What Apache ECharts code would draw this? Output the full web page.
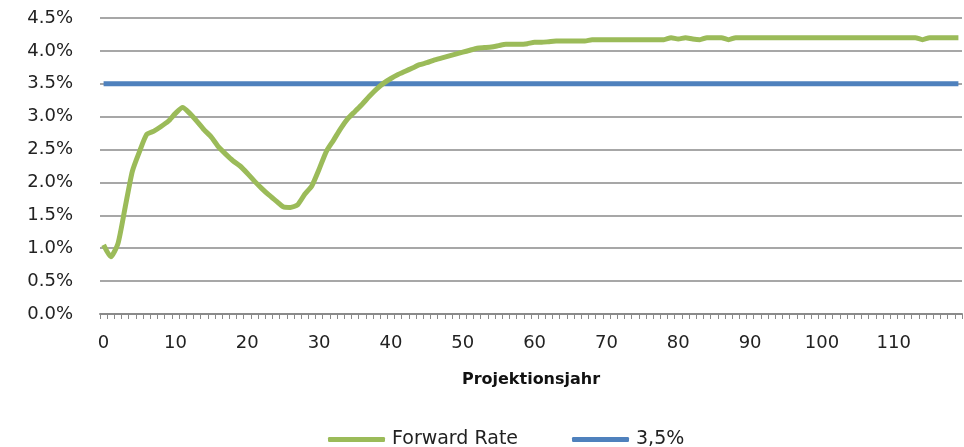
<!DOCTYPE html>
<html>
<head>
<meta charset="utf-8">
<script src="https://cdn.jsdelivr.net/npm/echarts@6/dist/echarts.min.js"></script>
<style>
html,body{margin:0;padding:0;background:#fff;}
#c{width:964px;height:447px;}
</style>
</head>
<body>
<div id="c"></div>
<script>
var years = [0,1,2,3,4,5,6,7,8,9,10,11,12,13,14,15,16,17,18,19,
20,21,22,23,24,25,26,27,28,29,30,31,32,33,34,35,36,37,38,39,
40,41,42,43,44,45,46,47,48,49,50,51,52,53,54,55,56,57,58,59,
60,61,62,63,64,65,66,67,68,69,70,71,72,73,74,75,76,77,78,79,
80,81,82,83,84,85,86,87,88,89,90,91,92,93,94,95,96,97,98,99,
100,101,102,103,104,105,106,107,108,109,110,111,112,113,114,115,116,117,118,119];

var forwardRate = [1.05,0.87,1.07,1.62,2.17,2.47,2.73,2.78,2.85,2.93,
3.05,3.14,3.05,2.93,2.80,2.69,2.54,2.43,2.33,2.25,
2.14,2.02,1.91,1.81,1.72,1.63,1.62,1.66,1.82,1.95,
2.20,2.47,2.64,2.82,2.97,3.08,3.19,3.31,3.42,3.51,
3.58,3.64,3.69,3.74,3.79,3.82,3.86,3.89,3.92,3.95,
3.98,4.01,4.04,4.05,4.06,4.08,4.10,4.10,4.10,4.11,
4.13,4.13,4.14,4.15,4.15,4.15,4.15,4.15,4.17,4.17,
4.17,4.17,4.17,4.17,4.17,4.17,4.17,4.17,4.17,4.20,
4.18,4.20,4.18,4.17,4.20,4.20,4.20,4.17,4.20,4.20,
4.20,4.20,4.20,4.20,4.20,4.20,4.20,4.20,4.20,4.20,
4.20,4.20,4.20,4.20,4.20,4.20,4.20,4.20,4.20,4.20,
4.20,4.20,4.20,4.20,4.17,4.20,4.20,4.20,4.20,4.20];

var flatRate = [3.5,3.5,3.5,3.5,3.5,3.5,3.5,3.5,3.5,3.5,
3.5,3.5,3.5,3.5,3.5,3.5,3.5,3.5,3.5,3.5,
3.5,3.5,3.5,3.5,3.5,3.5,3.5,3.5,3.5,3.5,
3.5,3.5,3.5,3.5,3.5,3.5,3.5,3.5,3.5,3.5,
3.5,3.5,3.5,3.5,3.5,3.5,3.5,3.5,3.5,3.5,
3.5,3.5,3.5,3.5,3.5,3.5,3.5,3.5,3.5,3.5,
3.5,3.5,3.5,3.5,3.5,3.5,3.5,3.5,3.5,3.5,
3.5,3.5,3.5,3.5,3.5,3.5,3.5,3.5,3.5,3.5,
3.5,3.5,3.5,3.5,3.5,3.5,3.5,3.5,3.5,3.5,
3.5,3.5,3.5,3.5,3.5,3.5,3.5,3.5,3.5,3.5,
3.5,3.5,3.5,3.5,3.5,3.5,3.5,3.5,3.5,3.5,
3.5,3.5,3.5,3.5,3.5,3.5,3.5,3.5,3.5,3.5];

var seriesNames = ['Forward Rate', '3,5%'];
var axisTitle = 'Projektionsjahr';

var chart = echarts.init(document.getElementById('c'), null, {renderer: 'canvas'});
var font = '"DejaVu Sans", sans-serif';
chart.setOption({
  animation: false,
  backgroundColor: '#ffffff',
  grid: {left: 100, right: 2, top: 18, bottom: 133, containLabel: false},
  legend: {
    data: seriesNames,
    top: 425,
    left: 323,
    itemGap: 54,
    itemWidth: 57,
    itemHeight: 5,
    icon: 'roundRect',
    textStyle: {fontFamily: font, fontSize: 19, color: '#222', width: 148, padding: [0, 0, 0, 2]}
  },
  xAxis: {
    type: 'category',
    data: years,
    boundaryGap: true,
    name: axisTitle,
    nameLocation: 'middle',
    nameGap: 58,
    nameTextStyle: {fontFamily: font, fontSize: 16, fontWeight: 'bold', color: '#111'},
    axisLine: {lineStyle: {color: '#8a8a8a', width: 2}},
    axisTick: {show: true, interval: 0, length: 5, lineStyle: {color: '#8a8a8a', width: 1}},
    axisLabel: {interval: 9, margin: 20, fontFamily: font, fontSize: 18, color: '#222'},
    splitLine: {show: false}
  },
  yAxis: {
    type: 'value',
    min: 0,
    max: 4.5,
    interval: 0.5,
    axisLine: {show: false},
    axisTick: {show: false},
    axisLabel: {
      margin: 27,
      fontFamily: font,
      fontSize: 18,
      color: '#222',
      formatter: function (v) { return v.toFixed(1) + '%'; }
    },
    splitLine: {lineStyle: {color: '#8a8a8a', width: 1.5}}
  },
  series: [
    {
      name: seriesNames[0],
      type: 'line',
      data: forwardRate,
      showSymbol: false,
      symbol: 'none',
      smooth: 0.2,
      lineStyle: {color: '#9BBB59', width: 5},
      itemStyle: {color: '#9BBB59'},
      z: 3
    },
    {
      name: seriesNames[1],
      type: 'line',
      data: flatRate,
      showSymbol: false,
      symbol: 'none',
      lineStyle: {color: '#4F81BD', width: 5},
      itemStyle: {color: '#4F81BD'},
      z: 2
    }
  ]
});
</script>
</body>
</html>
